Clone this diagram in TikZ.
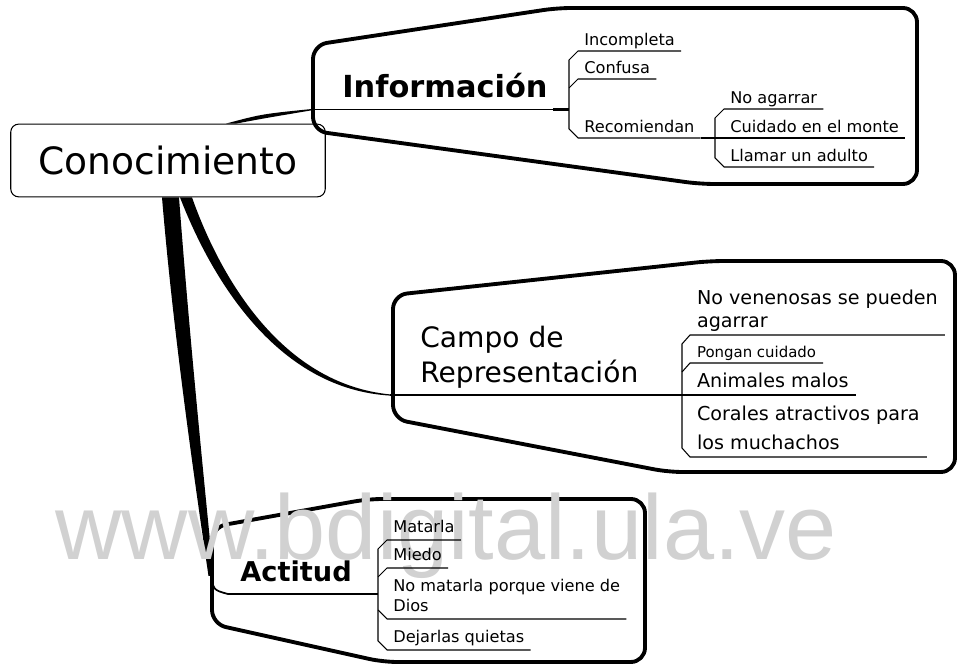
\documentclass[tikz,border=0pt]{standalone}
\usepackage{fontspec}
\setmainfont{DejaVu Sans}
\newfontfamily\wmfont{Liberation Sans}
\usepackage{tikz}
\usetikzlibrary{calc}

\begin{document}
\begin{tikzpicture}[x=0.02cm,y=-0.02cm,
                balloon/.style={line width=2.2pt, rounded corners=8pt, line join=round},
                uline/.style={line width=0.6pt},
                joiner/.style={line width=1.6pt},
                leafI/.style={anchor=south west, inner xsep=3.4pt, inner ysep=3.2pt, text depth=0pt, font=\fontsize{9.2}{11}\selectfont},
                leafC/.style={anchor=south west, inner xsep=3.8pt, inner ysep=4.2pt, text depth=0pt, align=left, font=\fontsize{10.9}{12.8}\selectfont},
                leafA/.style={anchor=south west, inner xsep=3.4pt, inner ysep=4.2pt, text depth=0pt, align=left, font=\fontsize{9.2}{11.3}\selectfont}]
                \useasboundingbox (0,0) rectangle (961,668);

                \node[draw, line width=0.6pt, rounded corners=4.5pt, minimum width=179pt, minimum height=41.4pt, font=\fontsize{21.4}{24}\selectfont] (cono) at (168,160.5) {Conocimiento};

                \draw[balloon] (313,90) -- (313,45) -- (557,8) -- (917,8) -- (917,184) -- (700,184) -- (313,131) -- cycle;
                \draw[balloon] (393,360) -- (393,295) -- (710,261) -- (955,261) -- (955,472) -- (668,472) -- (393,419) -- cycle;
                \draw[balloon] (212,580) -- (212,527) -- (368,499) -- (645,499) -- (645,662) -- (383,662) -- (212,624) -- cycle;

                \node[anchor=base west, inner sep=0pt, font=\bfseries\fontsize{17.3}{20}\selectfont] (info) at (342,98) {Información};
                \node[anchor=base west, inner sep=0pt, align=left, font=\fontsize{16}{20.4}\selectfont] (campo) at (420,383) {Campo de\\Representación};
                \node[anchor=base west, inner sep=0pt, font=\bfseries\fontsize{15.5}{18}\selectfont] (acti) at (240,582) {Actitud};

                \coordinate (iIn) at (313,109.5);
                \coordinate (iB) at (569,109.5);
                \coordinate (rB) at (715,138);
                \coordinate (cIn) at (390,395);
                \coordinate (cB) at (682,395);
                \coordinate (aIn) at (228,594);
                \coordinate (aB) at (378,594);

                \fill ($(cono.north)+(58,0)$) .. controls (262,114) .. ($(iIn)+(0,-0.6)$) -- ($(iIn)+(0,0.6)$) .. controls (266,118) .. ($(cono.north)+(68,0)$) -- cycle;
                \fill ($(cono.south)+(12,0)$) .. controls (214,285) and (280,389) .. ($(cIn)+(0,0.6)$) -- ($(cIn)+(0,-0.6)$) .. controls (284,384) and (222,282) .. ($(cono.south)+(24,0)$) -- cycle;
                \fill ($(cono.south)+(-6,0)$) .. controls (173,330) and (193,470) .. (208.5,576) -- (213.5,576) .. controls (202,460) and (189,330) .. ($(cono.south)+(11,0)$) -- cycle;
                \draw[line width=1pt] (211,572) .. controls (213,590) .. (aIn);

                \draw[uline] (iIn) -- (iB);
                \draw[joiner] ($(iB)+(-16,0)$) -- (iB);
                \draw[uline] (cIn) -- (cB);
                \draw[uline] (aIn) -- (aB);
                \draw[joiner] ($(aB)+(-18,0)$) -- (aB);

                \node[leafI] (inc) at (578,51) {Incompleta};
                \node[leafI] (conf) at (578,79) {Confusa};
                \node[leafI] (reco) at (578,138) {Recomiendan};
                \draw[uline] (inc.south east) -- (inc.south west) -- ++(-9,9) -- ($(reco.south west)+(-9,-9)$) -- (reco.south west) -- (reco.south east);
                \draw[uline] (conf.south east) -- (conf.south west) -- ++(-9,9);
                \draw[joiner] (reco.south east) -- (rB);

                \node[leafI] (noag) at (724,109) {No agarrar};
                \node[leafI] (cuid) at (724,138) {Cuidado en el monte};
                \node[leafI] (llam) at (724,167) {Llamar un adulto};
                \draw[uline] (noag.south east) -- (noag.south west) -- ++(-9,9) -- ($(llam.south west)+(-9,-9)$) -- (llam.south west) -- (llam.south east);
                \draw[uline] (rB) -- (cuid.south west) -- (cuid.south east);

                \node[leafC] (nove) at (690,335) {No venenosas se pueden\\agarrar};
                \node[leafC, inner ysep=2.8pt, font=\fontsize{8.5}{10}\selectfont] (pong) at (690,363) {Pongan cuidado};
                \node[leafC] (anim) at (690,395) {Animales malos};
                \node[leafC, font=\fontsize{10.9}{16.5}\selectfont] (cora) at (690,457) {Corales atractivos para\\los muchachos};
                \draw[uline] (nove.south east) -- (nove.south west) -- ++(-8,9) -- ($(cora.south west)+(-8,-9)$) -- (cora.south west) -- (cora.south east);
                \draw[uline] (pong.south east) -- (pong.south west) -- ++(-8,9);
                \draw[uline] (cB) -- (anim.south west) -- (anim.south east);

                \node[anchor=base west, inner sep=0pt, text=black!18, font=\wmfont\fontsize{52.3}{60}\selectfont] (wm) at (55,560) {www.bdigital.ula.ve};

                \node[leafA] (mata) at (387,540) {Matarla};
                \node[leafA] (mied) at (387,568) {Miedo};
                \node[leafA] (nomat) at (387,619) {No matarla porque viene de\\Dios};
                \node[leafA] (deja) at (387,650) {Dejarlas quietas};
                \draw[uline] (mata.south east) -- (mata.south west) -- ++(-9,9) -- ($(deja.south west)+(-9,-9)$) -- (deja.south west) -- (deja.south east);
                \draw[uline] (mied.south east) -- (mied.south west) -- ++(-9,9);
                \draw[uline] (nomat.south east) -- (nomat.south west) -- ++(-9,-9);
            \end{tikzpicture}
\end{document}
